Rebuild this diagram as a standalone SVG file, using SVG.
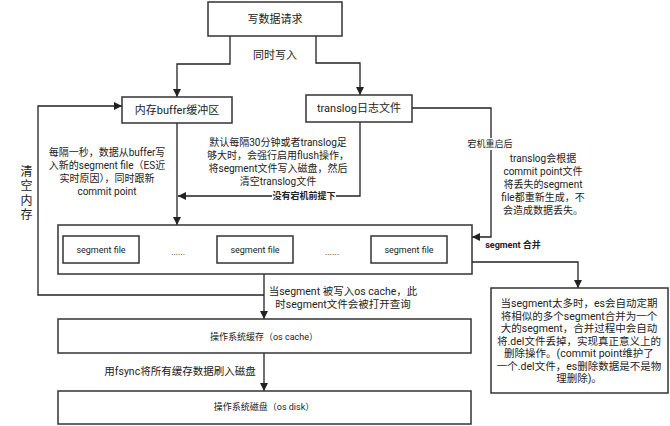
<svg xmlns="http://www.w3.org/2000/svg" width="670" height="426" viewBox="0 0 670 426">
<defs>
<marker id="arr" viewBox="0 0 10 10" refX="10" refY="5" markerWidth="8" markerHeight="8" markerUnits="userSpaceOnUse" orient="auto">
<path d="M0,0 L10,5 L0,10 z" fill="#222"/>
</marker>
<style>
.box{fill:#fff;stroke:#333;stroke-width:1.5}
.t{font-family:Roboto,"Noto Sans CJK SC",sans-serif;fill:#222;dominant-baseline:central;text-anchor:middle}
.n11{font-size:11px}
.n10{font-size:10px}
.n105{font-size:10.5px}
.n9{font-size:9px}
.b{font-weight:bold}
.c{fill:none;stroke:#222;stroke-width:1.3}
</style>
</defs>
<rect width="670" height="426" fill="#fff"/>
<g id="connectors">
<path class="c" d="M230,36 V64 H177 V97" marker-end="url(#arr)"/>
<path class="c" d="M316,36 V63 H360 V95" marker-end="url(#arr)"/>
<path class="c" d="M177,123 V225" marker-end="url(#arr)"/>
<path class="c" d="M360,122 V196 H178" marker-end="url(#arr)"/>
<path class="c" d="M412,108 H491 V237 H472" marker-end="url(#arr)"/>
<path class="c" d="M264,274 V319" marker-end="url(#arr)"/>
<path class="c" d="M264,295 H38 V106 H122" marker-end="url(#arr)"/>
<path class="c" d="M472,262 H578 V288" marker-end="url(#arr)"/>
<path class="c" d="M264,353 V391" marker-end="url(#arr)"/>
</g>
<g id="labels">
<text class="t n11" x="275" y="55">同时写入</text>
<rect x="272" y="189" width="64" height="14" fill="#fff"/>
<text class="t n9 b" x="304" y="196">没有宕机前提下</text>
<rect x="467" y="138" width="47" height="12" fill="#fff"/>
<text class="t n9" x="490" y="144">宕机重启后</text>
<text class="t n9 b" x="513" y="245">segment 合并</text>
<text class="t" style="font-size:12px;writing-mode:vertical-rl;letter-spacing:2.5px" x="25" y="194">清空内存</text>
<text class="t n10" x="107"><tspan x="107" y="152">每隔一秒，数据从buffer写</tspan><tspan x="107" y="165">入新的segment file（ES近</tspan><tspan x="107" y="178">实时原因），同时跟新</tspan><tspan x="107" y="190.5">commit point</tspan></text>
<text class="t n10" x="278"><tspan x="278" y="142">默认每隔30分钟或者translog足</tspan><tspan x="278" y="155">够大时，会强行启用flush操作，</tspan><tspan x="278" y="168">将segment文件写入磁盘，然后</tspan><tspan x="278" y="181">清空translog文件</tspan></text>
<text class="t n10" x="543"><tspan x="543" y="158">translog会根据</tspan><tspan x="543" y="171">commit point文件</tspan><tspan x="543" y="184">将丢失的segment</tspan><tspan x="543" y="197">file都重新生成，不</tspan><tspan x="543" y="210">会造成数据丢失。</tspan></text>
<text class="t n105" x="343"><tspan x="343" y="291">当segment 被写入os cache，此</tspan><tspan x="343" y="304">时segment文件会被打开查询</tspan></text>
<text class="t n105" x="180" y="371">用fsync将所有缓存数据刷入磁盘</text>
</g>
<g id="write-request">
<rect class="box" x="208" y="2" width="134" height="34"/>
<text class="t n11" x="275" y="19">写数据请求</text>
</g>
<g id="memory-buffer">
<rect class="box" x="122" y="97" width="110" height="26"/>
<text class="t n11" x="177" y="110">内存buffer缓冲区</text>
</g>
<g id="translog">
<rect class="box" x="306" y="95" width="106" height="27"/>
<text class="t n11" x="359" y="108.5">translog日志文件</text>
</g>
<g id="segments">
<rect class="box" x="58" y="225" width="414" height="49"/>
<rect class="box" x="63" y="236" width="76" height="27"/>
<text class="t n9" x="101" y="249.5">segment file</text>
<text class="t n9" x="178" y="252">......</text>
<rect class="box" x="217" y="236" width="76" height="27"/>
<text class="t n9" x="255" y="249.5">segment file</text>
<text class="t n9" x="332" y="252">......</text>
<rect class="box" x="371" y="236" width="76" height="27"/>
<text class="t n9" x="409" y="249.5">segment file</text>
</g>
<g id="merge-note">
<rect class="box" x="491" y="288" width="177" height="105"/>
<text class="t n105" x="579"><tspan x="579" y="303">当segment太多时，es会自动定期</tspan><tspan x="579" y="315.5">将相似的多个segment合并为一个</tspan><tspan x="579" y="328">大的segment，合并过程中会自动</tspan><tspan x="579" y="340.5">将.del文件丢掉，实现真正意义上的</tspan><tspan x="579" y="353">删除操作。(commit point维护了</tspan><tspan x="579" y="365.5">一个.del文件，es删除数据是不是物</tspan><tspan x="579" y="378">理删除)。</tspan></text>
</g>
<g id="os-cache">
<rect class="box" x="58" y="319" width="413" height="34"/>
<text class="t n9" x="264" y="337">操作系统缓存（os cache）</text>
</g>
<g id="os-disk">
<rect class="box" x="58" y="391" width="413" height="33"/>
<text class="t n9" x="264" y="407">操作系统磁盘（os disk）</text>
</g>
</svg>
